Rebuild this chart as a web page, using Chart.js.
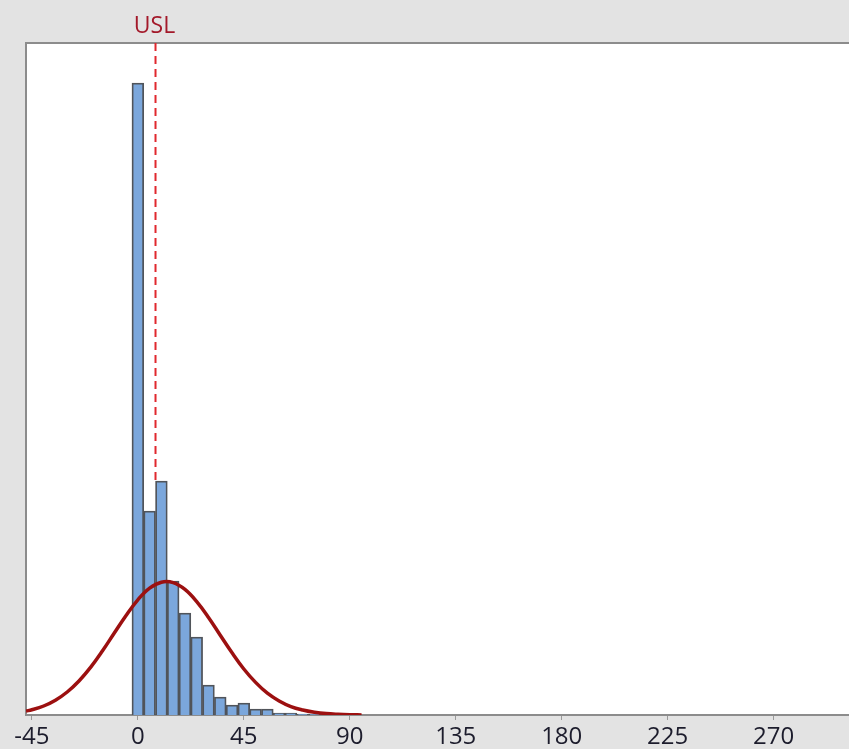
<!DOCTYPE html>
<html>
<head>
<meta charset="utf-8">
<script src="https://cdn.jsdelivr.net/npm/chart.js@4/dist/chart.umd.min.js"></script>
<style>
  html, body { margin: 0; padding: 0; background: #e3e3e3; }
  #wrap { width: 849px; height: 749px; }
</style>
</head>
<body>
<div id="wrap"><canvas id="hist"></canvas></div>
<script>
// bin midpoints (width 5) and counts
const binCenters = [0, 5, 10, 15, 20, 25, 30, 35, 40, 45, 50, 55, 60, 65, 70, 75, 80];
const binCounts = [316, 102, 117, 67, 51, 39, 15, 9, 5, 6, 3, 3, 1, 1, 0.5, 0.5, 0.5];

// fitted normal curve
const curveX = [-47.5, -45, -40, -35, -30, -25, -20, -15, -10, -5, 0, 5, 10, 15, 20, 25, 30, 35, 40, 45, 50, 55, 60, 65, 70, 75, 80, 85, 90, 95];
const curveY = [2.0, 2.6, 4.5, 7.4, 11.5, 17.0, 23.9, 32.1, 41.0, 49.8, 57.6, 63.4, 66.4, 66.2, 62.8, 56.7, 48.8, 39.9, 31.1, 23.0, 16.3, 10.9, 7.0, 4.2, 2.5, 1.4, 0.7, 0.35, 0.15, 0.05];

const xTicks = [-45, 0, 45, 90, 135, 180, 225, 270];
const usl = 7.5;

const frame = {
  id: "frame",
  beforeDraw(chart) {
    const { ctx, chartArea: a } = chart;
    ctx.save();
    ctx.fillStyle = "#e3e3e3";
    ctx.fillRect(0, 0, chart.width, chart.height);
    ctx.fillStyle = "#ffffff";
    ctx.fillRect(a.left, a.top, a.right - a.left, a.bottom - a.top);
    ctx.strokeStyle = "#8c8c8c";
    ctx.lineWidth = 2;
    ctx.beginPath();
    ctx.moveTo(a.left, a.bottom);
    ctx.lineTo(a.left, a.top);
    ctx.lineTo(a.right, a.top);
    ctx.stroke();
    ctx.restore();
  },
  afterDatasetsDraw(chart) {
    const { ctx, chartArea: a } = chart;
    const x = chart.scales.x.getPixelForValue(usl);
    ctx.save();
    ctx.strokeStyle = "#e0282e";
    ctx.lineWidth = 2;
    ctx.setLineDash([8, 5]);
    ctx.beginPath();
    ctx.moveTo(x, a.top);
    ctx.lineTo(x, chart.scales.y.getPixelForValue(binCounts[2]));
    ctx.stroke();
    ctx.setLineDash([]);
    ctx.fillStyle = "#a3192a";
    ctx.font = "500 23px 'Open Sans', sans-serif";
    ctx.textAlign = "center";
    ctx.textBaseline = "alphabetic";
    ctx.fillText("USL", x - 1, 33);
    ctx.restore();
  }
};

new Chart(document.getElementById("hist"), {
  type: "bar",
  data: {
    datasets: [
      {
        type: "line",
        data: curveX.map((x, i) => ({ x: x, y: curveY[i] })),
        borderColor: "#9c1010",
        borderWidth: 3.5,
        pointRadius: 0,
        tension: 0.4,
        fill: false,
        order: 0
      },
      {
        data: binCenters.map((x, i) => ({ x: x, y: binCounts[i] })),
        backgroundColor: "#7ba7dc",
        borderColor: "#50545a",
        borderWidth: 1.8,
        barPercentage: 1,
        categoryPercentage: 1,
        order: 1
      }
    ]
  },
  options: {
    responsive: true,
    maintainAspectRatio: false,
    animation: false,
    layout: { padding: { left: 26, top: 43, right: 0, bottom: 0 } },
    plugins: { legend: { display: false }, tooltip: { enabled: false } },
    scales: {
      x: {
        type: "linear",
        min: -47.5,
        max: 302,
        offset: false,
        afterBuildTicks: (s) => { s.ticks = xTicks.map(v => ({ value: v })); },
        afterFit: (s) => { s.height = 34; },
        ticks: {
          autoSkip: false,
          maxRotation: 0,
          padding: 3,
          color: "#1c1c2c",
          font: { family: "'Open Sans', sans-serif", size: 24 }
        },
        grid: { offset: false, drawOnChartArea: false, tickLength: 5, color: "#9a9a9a" },
        border: { color: "#8c8c8c", width: 2 }
      },
      y: {
        display: false,
        min: 0,
        max: 336
      }
    }
  },
  plugins: [frame]
});
</script>
</body>
</html>
